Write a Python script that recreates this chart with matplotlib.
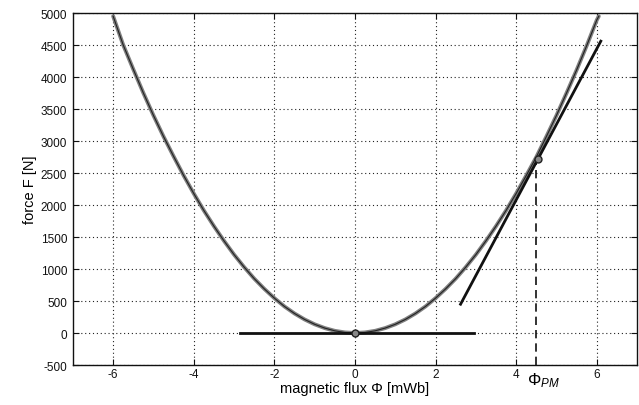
import matplotlib
matplotlib.use("Agg")
import matplotlib.pyplot as plt
import matplotlib.transforms as mtransforms

plt.rcParams['font.family'] = ['Liberation Sans', 'DejaVu Sans']
plt.rcParams['mathtext.fontset'] = 'custom'
plt.rcParams['mathtext.rm'] = 'Liberation Sans'
plt.rcParams['mathtext.it'] = 'Liberation Sans:italic'

# parabola F(Phi)
phi = [-6.0, -5.75, -5.5, -5.25, -5.0, -4.75, -4.5, -4.25, -4.0, -3.75, -3.5, -3.25,
       -3.0, -2.75, -2.5, -2.25, -2.0, -1.75, -1.5, -1.25, -1.0, -0.75, -0.5, -0.25,
       0.0, 0.25, 0.5, 0.75, 1.0, 1.25, 1.5, 1.75, 2.0, 2.25, 2.5, 2.75, 3.0, 3.25,
       3.5, 3.75, 4.0, 4.25, 4.5, 4.75, 5.0, 5.25, 5.5, 5.75, 6.0, 6.05]
force = [4950, 4500, 4120, 3750, 3400, 3070, 2760, 2460, 2180, 1915, 1670, 1440,
         1225, 1030, 850, 690, 545, 415, 305, 212, 136, 77, 34, 9,
         0, 9, 34, 77, 136, 212, 305, 415, 545, 690, 850, 1030, 1225, 1440,
         1670, 1915, 2180, 2460, 2750, 3070, 3400, 3750, 4110, 4490, 4890, 4950]

# tangent line at the operating point
tangent_phi = [2.62, 6.1]
tangent_force = [450, 4560]

# horizontal tangent at zero
zero_phi = [-2.85, 2.95]
zero_force = [0, 0]

# marked points
point_phi = [0.0, 4.55]
point_force = [0, 2720]
phi_pm = 4.5

xticks = [-6, -4, -2, 0, 2, 4, 6]
yticks = [-500, 0, 500, 1000, 1500, 2000, 2500, 3000, 3500, 4000, 4500, 5000]

fig = plt.figure(figsize=(6.39, 4.06), dpi=100)
ax = fig.add_axes([0.114, 0.0985, 0.883, 0.867])

ax.plot(phi, force, color='#808080', lw=2.8, solid_capstyle='round', zorder=3)
ax.plot(phi, force, color='#222222', lw=0.8, zorder=4)
ax.plot(tangent_phi, tangent_force, color='#111111', lw=2.0, zorder=5)
ax.plot(zero_phi, zero_force, color='#111111', lw=2.0, zorder=5)
ax.plot([phi_pm, phi_pm], [-500, point_force[1]], color='#111111', lw=1.2,
        ls=(0, (5, 3)), zorder=2)
ax.plot(point_phi, point_force, ls='none', marker='o', ms=5, mfc='#888888',
        mec='#222222', mew=1.0, zorder=6)

ax.set_xlim(-7, 7)
ax.set_ylim(-500, 5000)
ax.set_xticks(xticks)
ax.set_yticks(yticks)
ax.set_xticklabels([str(t) for t in xticks])
ax.set_yticklabels([str(t) for t in yticks])
ax.tick_params(direction='in', top=True, right=True, labelsize=8.5, length=4,
               width=0.8, colors='#111111')
ax.tick_params(axis='x', pad=2)
ax.tick_params(axis='y', pad=4)
ax.grid(True, color='#222222', ls=(0, (1, 2.5)), lw=0.8)
for s in ax.spines.values():
    s.set_linewidth(1.0)
    s.set_color('#111111')

ax.set_xlabel('magnetic flux Φ [mWb]', fontsize=10.5, labelpad=1)
ax.set_ylabel('force F [N]', fontsize=10.5, labelpad=3)

trans = mtransforms.blended_transform_factory(ax.transData, ax.transAxes)
ax.text(4.68, -0.015, r'$\Phi_{PM}$', transform=trans, ha='center', va='top',
        fontsize=12)

fig.savefig('out.png', dpi=100)
